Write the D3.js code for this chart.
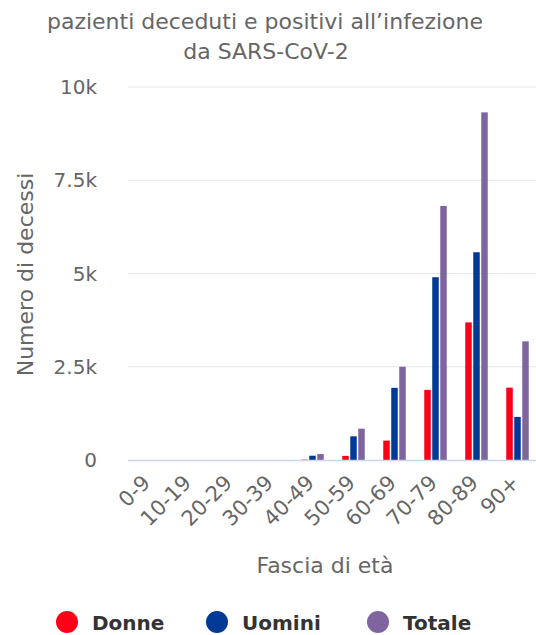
<!DOCTYPE html>
<html>
<head>
<meta charset="utf-8">
<script src="https://cdn.jsdelivr.net/npm/d3@7"></script>
<style>
  body { margin: 0; background: #fff; }
  text { font-family: "DejaVu Sans", sans-serif; }
</style>
</head>
<body>
<script>
// Age groups and deaths per series
var ageGroups = ["0-9", "10-19", "20-29", "30-39", "40-49", "50-59", "60-69", "70-79", "80-89", "90+"];
var donne  = [0, 0, 0, 0, 10, 110, 520, 1880, 3690, 1940];
var uomini = [0, 0, 0, 0, 115, 635, 1935, 4900, 5570, 1155];
var totale = [0, 0, 0, 0, 160, 840, 2500, 6810, 9320, 3180];
var seriesNames = ["Donne", "Uomini", "Totale"];
var seriesColors = ["#ff0019", "#003a96", "#7f65a0"];
var yTicks = [0, 2500, 5000, 7500, 10000];
var yTickLabels = ["0", "2.5k", "5k", "7.5k", "10k"];

var width = 536, height = 635;
var margin = {top: 87, right: -2, bottom: 175, left: 128};

var svg = d3.select("body").append("svg")
  .attr("width", width)
  .attr("height", height);

var x = d3.scaleBand()
  .domain(ageGroups)
  .range([margin.left, width - margin.right]);

var y = d3.scaleLinear()
  .domain([0, 10000])
  .range([height - margin.bottom, margin.top]);

var series = [donne, uomini, totale];
var barW = 6.5, barStep = 8;

// Title
svg.append("text")
  .attr("x", 265).attr("y", 29)
  .attr("text-anchor", "middle")
  .style("font-size", "22px").style("fill", "#666")
  .text("pazienti deceduti e positivi all\u2019infezione");
svg.append("text")
  .attr("x", 266).attr("y", 59)
  .attr("text-anchor", "middle")
  .style("font-size", "22px").style("fill", "#666")
  .text("da SARS-CoV-2");

// Gridlines
svg.selectAll(".grid")
  .data(yTicks.slice(1))
  .enter().append("line")
  .attr("x1", margin.left).attr("x2", width)
  .attr("y1", d => y(d)).attr("y2", d => y(d))
  .style("stroke", "#e6e6e6").style("stroke-width", 1);

// Y tick labels
svg.selectAll(".ylab")
  .data(yTicks)
  .enter().append("text")
  .attr("x", 97)
  .attr("y", d => y(d) + 7)
  .attr("text-anchor", "end")
  .style("font-size", "20px").style("fill", "#666")
  .text((d, i) => yTickLabels[i]);

// Y title
svg.append("text")
  .attr("transform", "translate(33," + (y(5000) + 1) + ") rotate(-90)")
  .attr("text-anchor", "middle")
  .style("font-size", "22px").style("fill", "#666")
  .text("Numero di decessi");

// Bars
series.forEach(function(vals, s) {
  svg.selectAll(".bar" + s)
    .data(vals)
    .enter().append("rect")
    .attr("x", (d, i) => x(ageGroups[i]) + x.bandwidth() / 2 + (s - 1) * barStep - barW / 2)
    .attr("y", d => y(d))
    .attr("width", barW)
    .attr("height", d => y(0) - y(d))
    .style("fill", seriesColors[s]);
});

// X axis line
svg.append("line")
  .attr("x1", margin.left).attr("x2", width)
  .attr("y1", y(0) + 0.5).attr("y2", y(0) + 0.5)
  .style("stroke", "#ccd6eb").style("stroke-width", 1.5);

// X tick labels
svg.selectAll(".xlab")
  .data(ageGroups)
  .enter().append("text")
  .attr("transform", d => "translate(" + (x(d) + x.bandwidth() / 2 + 3) + "," + (y(0) + 24) + ") rotate(-45)")
  .attr("text-anchor", "end")
  .style("font-size", "21px").style("fill", "#666")
  .text(d => d);

// X title
svg.append("text")
  .attr("x", 325).attr("y", 573)
  .attr("text-anchor", "middle")
  .style("font-size", "22px").style("fill", "#666")
  .text("Fascia di et\u00e0");

// Legend
var legendX = [67, 217, 378];
seriesNames.forEach(function(name, i) {
  svg.append("circle")
    .attr("cx", legendX[i]).attr("cy", 622)
    .attr("r", 11)
    .style("fill", seriesColors[i]);
  svg.append("text")
    .attr("x", legendX[i] + 25).attr("y", 630)
    .style("font-size", "20px").style("font-weight", "bold").style("fill", "#333")
    .text(name);
});
</script>
</body>
</html>
